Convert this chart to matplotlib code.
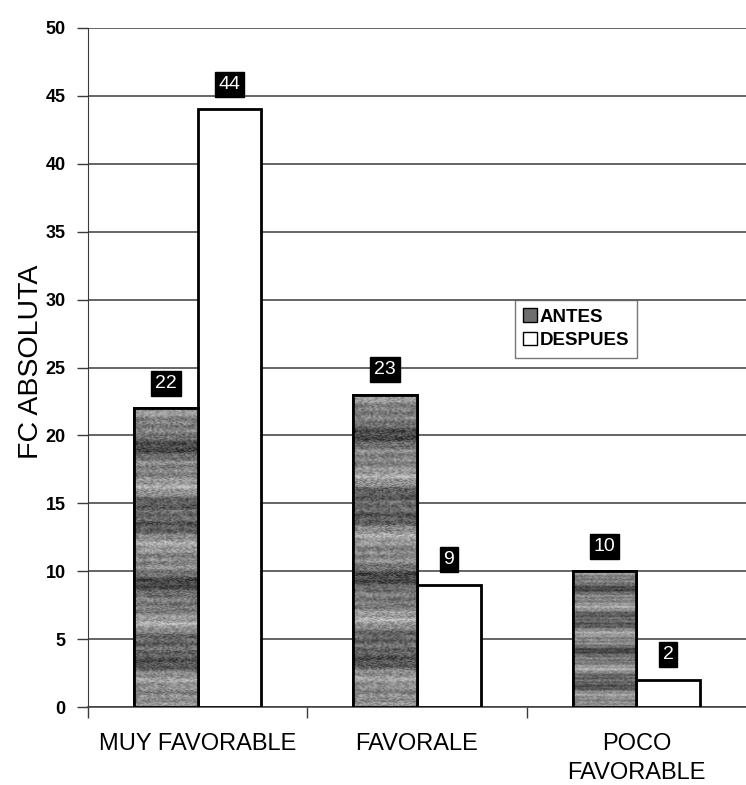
import numpy as np
import matplotlib
matplotlib.use("Agg")
import matplotlib.pyplot as plt
from matplotlib.patches import Rectangle, Patch

categories = ["MUY FAVORABLE", "FAVORALE", "POCO\nFAVORABLE"]
antes = [22, 23, 10]
despues = [44, 9, 2]
series_names = ["ANTES", "DESPUES"]
y_ticks = [0, 5, 10, 15, 20, 25, 30, 35, 40, 45, 50]

plt.rcParams["font.family"] = ["Liberation Sans", "DejaVu Sans"]

W, H = 746, 785
fig = plt.figure(figsize=(W / 100, H / 100), dpi=100)
ax = fig.add_axes([88 / W, (H - 707) / H, (746 - 88) / W, (707 - 28) / H])

x = np.arange(len(categories))
bw = 0.29

# grainy banded grey texture for the first series
rows, cols = 320, 40
yy = np.linspace(0, 1, rows)[:, None]
ii, jj = np.meshgrid(np.arange(cols), np.arange(rows))
grain = np.modf(np.abs(np.sin(ii * 12.9898 + jj * 78.233)) * 43758.5453)[0] - 0.5
band = (0.47 + 0.13 * np.sin(yy * 2 * np.pi * 4.3)
        + 0.07 * np.sin(yy * 2 * np.pi * 11.0 + 1.2)
        + 0.05 * np.sin(yy * 2 * np.pi * 37.0))
tex_img = np.clip(band + 0.28 * grain, 0, 1)

bars_a = ax.bar(x - bw / 2, antes, bw, color="#7c7c7c", edgecolor="black",
                linewidth=2, zorder=3, label=series_names[0])
bars_d = ax.bar(x + bw / 2, despues, bw, color="white", edgecolor="black",
                linewidth=2, zorder=3, label=series_names[1])

for b in bars_a:
    x0, y0 = b.get_x(), b.get_y()
    im = ax.imshow(tex_img, cmap="gray", vmin=0, vmax=1, origin="lower",
                   extent=[x0, x0 + b.get_width(), y0, y0 + b.get_height()],
                   aspect="auto", zorder=3.5, interpolation="bilinear")
    im.set_clip_path(b)
    ax.add_patch(Rectangle((x0, y0), b.get_width(), b.get_height(), fill=False,
                           edgecolor="black", linewidth=2, zorder=4))

for bars, vals in ((bars_a, antes), (bars_d, despues)):
    for b, v in zip(bars, vals):
        ax.annotate(str(v), (b.get_x() + b.get_width() / 2, v),
                    xytext=(0, 18), textcoords="offset points",
                    ha="center", va="center", color="white", fontsize=14,
                    bbox=dict(boxstyle="square,pad=0.2", fc="black", ec="black"),
                    zorder=5)

ax.set_xlim(-0.5, 2.5)
ax.set_ylim(0, 50)
ax.set_yticks(y_ticks)
ax.set_yticklabels([str(t) for t in y_ticks], fontsize=13, fontweight="bold")
ax.yaxis.grid(True, color="#3a3a3a", linewidth=1.1, zorder=0)
ax.set_axisbelow(True)
ax.tick_params(axis="y", length=8, width=1, color="#3a3a3a", pad=8, direction="out")

ax.set_xticks([-0.5, 0.5, 1.5])
ax.set_xticklabels([])
ax.tick_params(axis="x", length=8, width=1, color="#3a3a3a", direction="out")
for xi, lab in zip(x, categories):
    ax.text(xi, -1.9, lab, ha="center", va="top", fontsize=17,
            linespacing=1.4, transform=ax.transData)

for s in ("top", "right"):
    ax.spines[s].set_visible(False)
ax.spines["left"].set_color("#3a3a3a")
ax.spines["bottom"].set_color("#3a3a3a")
ax.spines["bottom"].set_linewidth(1.1)

fig.text(31 / W, 1 - 362 / H, "FC ABSOLUTA", rotation=90, ha="center",
         va="center", fontsize=20.5)

handles = [Patch(facecolor="#6e6e6e", edgecolor="black"),
           Patch(facecolor="white", edgecolor="black")]
leg = ax.legend(handles, series_names, loc="upper left",
                bbox_to_anchor=((515 - 88) / (746 - 88), (707 - 300) / (707 - 28)),
                borderaxespad=0, frameon=True, fancybox=False, edgecolor="#555555",
                prop=dict(size=13.5, weight="bold"), handlelength=0.7,
                handleheight=0.7, handletextpad=0.15, borderpad=0.45,
                labelspacing=0.35)
leg.get_frame().set_linewidth(1)

fig.savefig("out.png", dpi=100)
